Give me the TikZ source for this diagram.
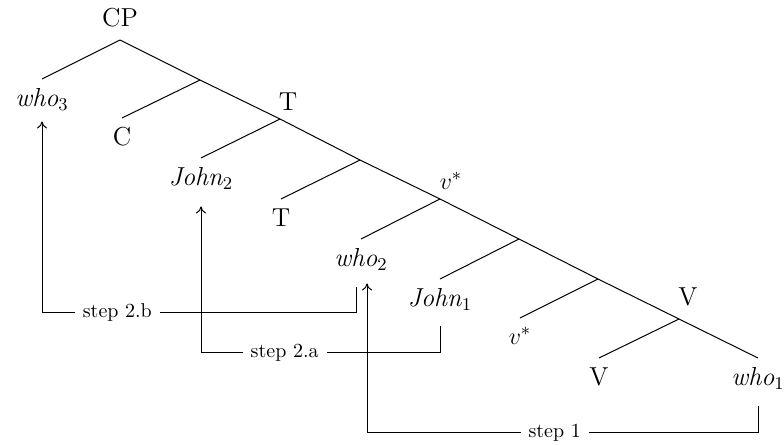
\documentclass[tikz,border=0pt]{standalone}
\usepackage{amsmath,amssymb}
\usepackage{xcolor}
\usepackage{tikz}
\usetikzlibrary{arrows.meta,positioning}

\begin{document}
\begin{tikzpicture}[
  x=0.5pt, y=-0.5pt,
  font=\fontsize{13}{15}\selectfont,
  branch/.style={line width=0.5pt},
  leaf/.style={anchor=north, inner sep=4.5pt},
  cat/.style={inner sep=0pt},
  move/.style={-{To[length=3.5pt, width=5pt]}, line width=0.5pt},
  movetext/.style={font=\normalsize, fill=white, inner xsep=4pt, inner ysep=1pt}
]
\useasboundingbox (0,0) rectangle (784,445);

% spine points
\coordinate (cp) at (120,40);
\coordinate (cbar) at (200,80);
\coordinate (tp) at (280,119);
\coordinate (tbar) at (360,160);
\coordinate (vp) at (440,199);
\coordinate (vbar) at (519,239);
\coordinate (vbarr) at (598,279);
\coordinate (vvp) at (679,319);

% category labels
\node[cat] (cpl) at (120,18) {CP};
\node[cat] (tpl) at (288,102) {T};
\node[cat] (vpl) at (451,181) {$v^*$};
\node[cat] (vvpl) at (688,297) {V};

% leaves
\node[leaf] (who3) at (42,79) {\textit{who}$_3$};
\node[leaf] (c) at (122,118) {C};
\node[leaf] (john2) at (201,158) {\textit{John}$_2$};
\node[leaf] (t) at (281,199) {T};
\node[leaf] (who2) at (361,239) {\textit{who}$_2$};
\node[leaf] (john1) at (440,279) {\textit{John}$_1$};
\node[leaf] (vstar) at (520,318) {$v^*$};
\node[leaf] (v) at (599,358) {V};
\node[leaf] (who1) at (758,358) {\textit{who}$_1$};

\draw[branch] (cp) -- (cbar) -- (tp) -- (tbar) -- (vp) -- (vbar) -- (vbarr) -- (vvp) -- (who1.north);
\draw[branch] (cp) -- (who3.north);
\draw[branch] (cbar) -- (c.north);
\draw[branch] (tp) -- (john2.north);
\draw[branch] (tbar) -- (t.north);
\draw[branch] (vp) -- (who2.north);
\draw[branch] (vbar) -- (john1.north);
\draw[branch] (vbarr) -- (vstar.north);
\draw[branch] (vvp) -- (v.north);

% movement steps
\draw[move] ([xshift=-2.5pt, yshift=-4pt]who2.south) -- ++(0,25) -| node[movetext, pos=0.38] {step 2.b} ([yshift=-1pt]who3.south);
\draw[move] ([yshift=-3.5pt]john1.south) -- ++(0,26) -| node[movetext, pos=0.325] {step 2.a} ([yshift=-4pt]john2.south);
\draw[move] ([yshift=-4pt]who1.south) -- ++(0,26) -| node[movetext, pos=0.26] {step 1} ([xshift=3pt, yshift=-2pt]who2.south);
\end{tikzpicture}
\end{document}
